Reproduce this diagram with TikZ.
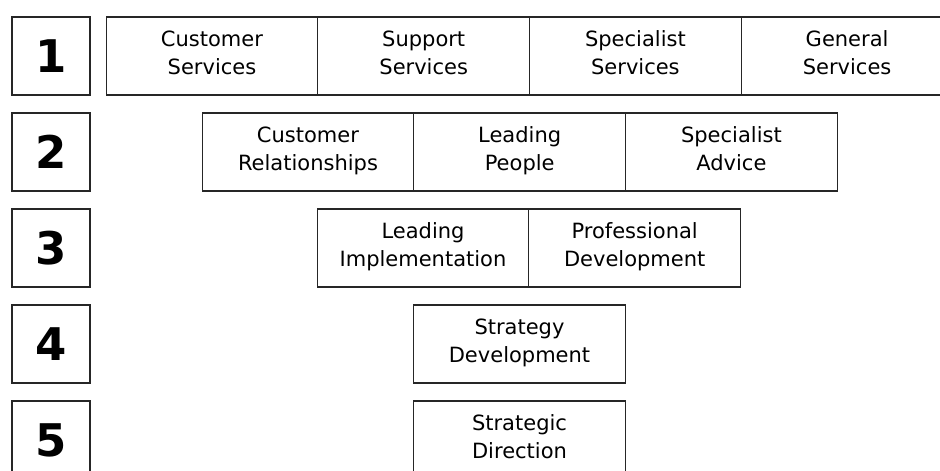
\documentclass[tikz,border=0pt]{standalone}
\usepackage{fontspec}
\setmainfont{DejaVu Sans}
\usepackage{tikz}
\usetikzlibrary{positioning}
\newcommand{\cellstrut}{\rule[-6pt]{0pt}{31pt}}

\begin{document}
\begin{tikzpicture}[x=1pt,y=-1pt,
    every node/.style={outer sep=0pt},
    level/.style={draw=black!85,line width=1.2pt,minimum width=78pt,minimum height=78pt,
        inner sep=0pt,font=\fontsize{45}{50}\selectfont\bfseries},
    cell/.style={draw=black!85,line width=1.2pt,minimum width=211.7pt,minimum height=78pt,
        inner sep=0pt,align=center,font=\fontsize{21}{28}\selectfont,
        execute at begin node=\cellstrut,execute at end node=\cellstrut}]
    \useasboundingbox (0,0) rectangle (940,471);
    \clip (0,0) rectangle (940,471);
    % level numbers
    \node[level] (l1) at (51,56) {1};
    \node[level] (l2) at (51,152) {2};
    \node[level] (l3) at (51,248) {3};
    \node[level] (l4) at (51,344) {4};
    \node[level] (l5) at (51,440) {5};
    % level 1
    \node[cell] (custserv) at (212,56) {Customer\\Services};
    \node[cell,right=0pt of custserv] (suppserv) {Support\\Services};
    \node[cell,right=0pt of suppserv] (specserv) {Specialist\\Services};
    \node[cell,right=0pt of specserv] (genserv) {General\\Services};
    % level 2
    \node[cell] (custrel) at (308,152) {Customer\\Relationships};
    \node[cell,right=0pt of custrel] (leadpeople) {Leading\\People};
    \node[cell,right=0pt of leadpeople] (specadv) {Specialist\\Advice};
    % level 3
    \node[cell] (leadimpl) at (423,248) {Leading\\Implementation};
    \node[cell,right=0pt of leadimpl] (profdev) {Professional\\Development};
    % level 4 and 5
    \node[cell] (stratdev) at (519.5,344) {Strategy\\Development};
    \node[cell] (stratdir) at (519.5,440) {Strategic\\Direction};
\end{tikzpicture}
\end{document}
